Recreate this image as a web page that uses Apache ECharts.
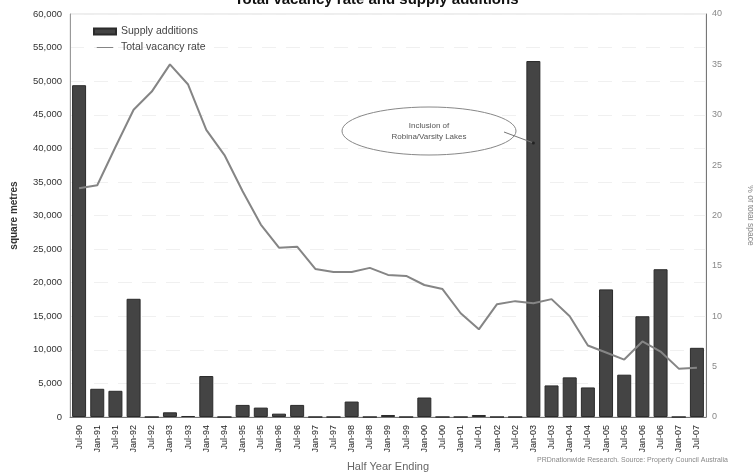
<!DOCTYPE html>
<html>
<head>
<meta charset="utf-8">
<script src="https://cdn.jsdelivr.net/npm/echarts@6/dist/echarts.min.js"></script>
<style>
  html, body { margin: 0; padding: 0; background: #fff; }
  #chart { width: 753px; height: 474px; }
</style>
</head>
<body>
<div id="chart"></div>
<script>
// Half-year periods
const periods = [
  'Jul-90','Jan-91','Jul-91','Jan-92','Jul-92','Jan-93','Jul-93','Jan-94','Jul-94','Jan-95',
  'Jul-95','Jan-96','Jul-96','Jan-97','Jul-97','Jan-98','Jul-98','Jan-99','Jul-99','Jan-00',
  'Jul-00','Jan-01','Jul-01','Jan-02','Jul-02','Jan-03','Jul-03','Jan-04','Jul-04','Jan-05',
  'Jul-05','Jan-06','Jul-06','Jan-07','Jul-07'
];

// Supply additions (square metres)
const supplyAdditions = [
  49400, 4200, 3900, 17600, 0, 700, 150, 6100, 0, 1800,
  1400, 500, 1800, 0, 0, 2300, 0, 300, 0, 2900,
  0, 0, 300, 0, 0, 53000, 4700, 5900, 4400, 19000,
  6300, 15000, 22000, 0, 10300
];

// Total vacancy rate (% of total space)
const vacancyRate = [
  22.7, 23.0, 26.8, 30.5, 32.3, 35.0, 33.0, 28.5, 26.0, 22.4,
  19.1, 16.8, 16.9, 14.7, 14.4, 14.4, 14.8, 14.1, 14.0, 13.1,
  12.7, 10.3, 8.7, 11.2, 11.5, 11.3, 11.7, 10.0, 7.1, 6.4,
  5.7, 7.5, 6.5, 4.8, 4.9
];

// Left and right axis tick settings
const leftTicks = { min: 0, max: 60000, interval: 5000 };
const rightTicks = { min: 0, max: 40, interval: 5 };

const FONT = '"Liberation Sans", Arial, sans-serif';

// Thin horizontal stroke used as the legend marker for the line series
const lineIcon = 'path://M0,0 L0.01,0 L0,0 Z M0,3.4 L22,3.4 L22,4.6 L0,4.6 Z M0,8 L0.01,8 L0,8 Z';

const chart = echarts.init(document.getElementById('chart'), null, { renderer: 'canvas' });

chart.setOption({
  animation: false,
  backgroundColor: '#ffffff',
  title: {
    text: 'Total vacancy rate and supply additions',
    left: 'center',
    top: -13,
    textStyle: { fontFamily: FONT, fontSize: 15, fontWeight: 'bold', color: '#111' }
  },
  legend: {
    orient: 'vertical',
    left: 88,
    top: 21,
    itemGap: 5,
    itemWidth: 22,
    itemHeight: 6,
    textStyle: { fontFamily: FONT, fontSize: 10.5, color: '#444' },
    data: [
      { name: 'Supply additions', icon: 'rect' },
      { name: 'Total vacancy rate', icon: lineIcon }
    ]
  },
  grid: {
    left: 70, right: 47, top: 14, bottom: 57,
    outerBoundsMode: 'none',
    containLabel: false,
    show: true, borderColor: '#ddd', borderWidth: 1
  },
  xAxis: {
    type: 'category',
    data: periods,
    name: 'Half Year Ending',
    nameLocation: 'middle',
    nameGap: 44,
    nameTextStyle: { fontFamily: FONT, fontSize: 11, color: '#666' },
    axisLine: { lineStyle: { color: '#777', width: 1 } },
    axisTick: { show: false },
    axisLabel: { rotate: 90, fontFamily: FONT, fontSize: 9, color: '#222', margin: 8, interval: 0 }
  },
  yAxis: [
    {
      type: 'value',
      min: leftTicks.min, max: leftTicks.max, interval: leftTicks.interval,
      name: 'square metres',
      nameLocation: 'middle',
      nameGap: 51,
      nameTextStyle: { fontFamily: FONT, fontSize: 10, fontWeight: 'bold', color: '#333' },
      axisLine: { show: true, lineStyle: { color: '#999' } },
      axisTick: { show: false },
      axisLabel: {
        fontFamily: FONT, fontSize: 9.5, color: '#333', margin: 8,
        formatter: v => v.toLocaleString('en-US')
      },
      splitLine: { show: true, lineStyle: { color: '#f0f0f0', type: [14, 10] } }
    },
    {
      type: 'value',
      min: rightTicks.min, max: rightTicks.max, interval: rightTicks.interval,
      position: 'right',
      name: '% of total space',
      nameLocation: 'middle',
      nameGap: 40,
      nameRotate: -90,
      nameTextStyle: { fontFamily: FONT, fontSize: 8.5, color: '#888' },
      axisLine: { show: true, lineStyle: { color: '#777' } },
      axisTick: { show: false },
      axisLabel: { fontFamily: FONT, fontSize: 9, color: '#888', margin: 6 },
      splitLine: { show: false }
    }
  ],
  series: [
    {
      name: 'Supply additions',
      type: 'bar',
      yAxisIndex: 0,
      data: supplyAdditions,
      barWidth: 14,
      itemStyle: { color: '#444444', borderColor: '#2b2b2b', borderWidth: 1 }
    },
    {
      name: 'Total vacancy rate',
      type: 'line',
      yAxisIndex: 1,
      data: vacancyRate,
      symbol: 'none',
      lineStyle: { color: '#858585', width: 2 },
      itemStyle: { color: '#858585' },
      z: 5
    }
  ]
});

// Callout pointing at the Jan-03 supply bar
const tip = chart.convertToPixel({ xAxisIndex: 0, yAxisIndex: 0 }, ['Jan-03', 40800]);
const ellipseCx = 429, ellipseCy = 131, ellipseRx = 87, ellipseRy = 24;

chart.setOption({
  graphic: [
    {
      type: 'ellipse',
      shape: { cx: ellipseCx, cy: ellipseCy, rx: ellipseRx, ry: ellipseRy },
      style: { fill: '#fff', stroke: '#888', lineWidth: 1 },
      z: 10
    },
    {
      type: 'text',
      x: ellipseCx, y: ellipseCy,
      style: {
        text: 'Inclusion of\nRobina/Varsity Lakes',
        fontFamily: FONT, fontSize: 8, fill: '#555',
        textAlign: 'center', textVerticalAlign: 'middle', lineHeight: 11
      },
      z: 11
    },
    {
      type: 'line',
      shape: { x1: ellipseCx + ellipseRx - 12, y1: ellipseCy + 1, x2: tip[0], y2: tip[1] },
      style: { stroke: '#777', lineWidth: 1 },
      z: 11
    },
    {
      type: 'circle',
      shape: { cx: tip[0], cy: tip[1], r: 1.5 },
      style: { fill: '#222' },
      z: 11
    },
    {
      type: 'text',
      right: 25,
      top: 457,
      style: {
        text: 'PRDnationwide Research. Source: Property Council Australia',
        fontFamily: FONT, fontSize: 7, fill: '#888'
      }
    }
  ]
});
</script>
</body>
</html>
